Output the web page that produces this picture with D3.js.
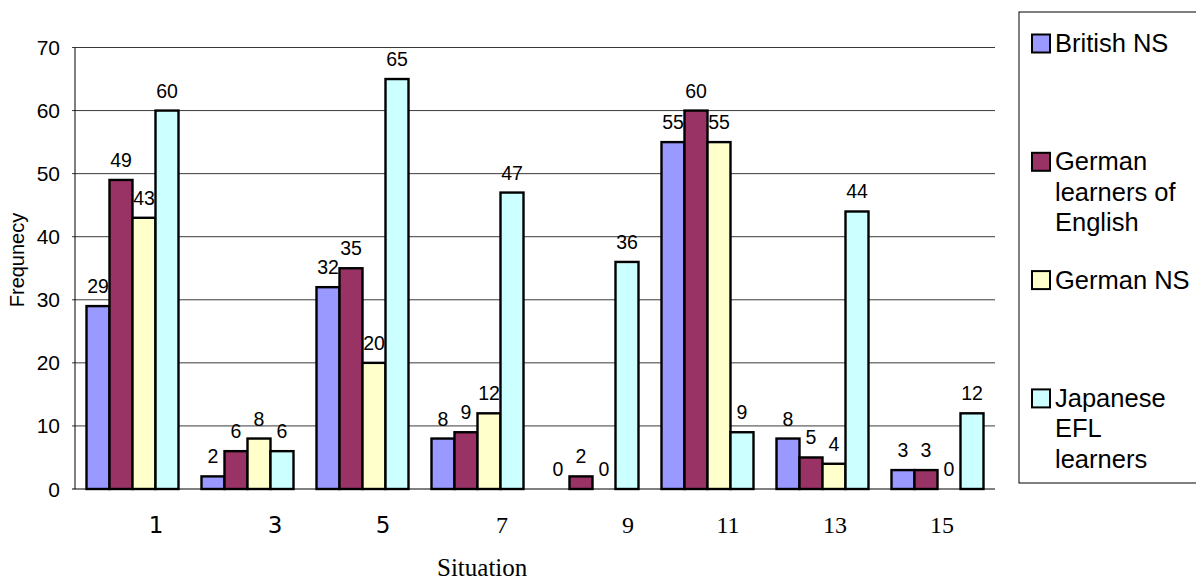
<!DOCTYPE html>
<html>
<head>
<meta charset="utf-8">
<script src="https://cdn.jsdelivr.net/npm/d3@7"></script>
<style>
  html, body { margin: 0; padding: 0; background: #fff; }
  svg { display: block; }
</style>
</head>
<body>
<svg id="chart" width="1196" height="583"></svg>
<script>
// Situations on the x axis
const situations = ["1", "3", "5", "7", "9", "11", "13", "15"];

// Frequency per group of respondents
const britishNS       = [29, 2, 32, 8, 0, 55, 8, 3];
const germanLearners  = [49, 6, 35, 9, 2, 60, 5, 3];
const germanNS        = [43, 8, 20, 12, 0, 55, 4, 0];
const japaneseEFL     = [60, 6, 65, 47, 36, 9, 44, 12];

const seriesNames = [
  ["British NS"],
  ["German", "learners of", "English"],
  ["German NS"],
  ["Japanese", "EFL", "learners"]
];
const seriesColors = ["#9999ff", "#993366", "#ffffcc", "#ccffff"];
const yTicks = [0, 10, 20, 30, 40, 50, 60, 70];

// Situation numbers sit slightly off the group centres; 1-5 use a sans face
const labelNudge = [23.5, 27.5, 20.5, 24.5, 35.5, 20.5, 12.5, 4.5];
const labelFonts = ["DejaVu Sans", "DejaVu Sans", "DejaVu Sans",
  "Liberation Serif", "Liberation Serif", "Liberation Serif", "Liberation Serif", "Liberation Serif"];

const seriesValues = [britishNS, germanLearners, germanNS, japaneseEFL];

const svg = d3.select("#chart");
const plot = { left: 75, right: 995, top: 47.5, bottom: 489 };

const x0 = d3.scaleBand()
  .domain(situations)
  .range([plot.left, plot.right])
  .paddingInner(0.2)
  .paddingOuter(0.1);

const x1 = d3.scaleBand()
  .domain(d3.range(seriesValues.length))
  .range([0, x0.bandwidth()]);

const y = d3.scaleLinear().domain([0, 70]).range([plot.bottom, plot.top]);

// Horizontal gridlines
svg.append("g")
  .selectAll("line")
  .data(yTicks)
  .join("line")
  .attr("x1", plot.left - 3)
  .attr("x2", plot.right)
  .attr("y1", d => y(d))
  .attr("y2", d => y(d))
  .attr("stroke", d => d === 0 ? "#000" : "#3a3a3a")
  .attr("stroke-width", 1);

// Y axis line
svg.append("line")
  .attr("x1", plot.left).attr("x2", plot.left)
  .attr("y1", y(70)).attr("y2", y(0))
  .attr("stroke", "#000").attr("stroke-width", 1);

// Y tick labels
svg.append("g")
  .selectAll("text")
  .data(yTicks)
  .join("text")
  .attr("x", 60)
  .attr("y", d => y(d))
  .attr("dy", "0.36em")
  .attr("text-anchor", "end")
  .attr("font-family", "Liberation Sans, Arial, sans-serif")
  .attr("font-size", 21)
  .attr("fill", "#000")
  .text(d => d);

// Bars
const rows = situations.map((s, i) => ({
  situation: s,
  values: seriesValues.map((vals, k) => ({ k, v: vals[i] }))
}));

const groups = svg.append("g")
  .selectAll("g")
  .data(rows)
  .join("g")
  .attr("transform", d => `translate(${x0(d.situation)},0)`);

groups.selectAll("rect")
  .data(d => d.values.filter(e => e.v > 0))
  .join("rect")
  .attr("x", e => x1(e.k))
  .attr("y", e => y(e.v))
  .attr("width", x1.bandwidth())
  .attr("height", e => y(0) - y(e.v))
  .attr("fill", e => seriesColors[e.k])
  .attr("stroke", "#000")
  .attr("stroke-width", 2.4);

// Value labels
groups.selectAll("text")
  .data(d => d.values)
  .join("text")
  .attr("x", e => x1(e.k) + x1.bandwidth() / 2)
  .attr("y", e => y(e.v) - 13)
  .attr("text-anchor", "middle")
  .attr("font-family", "Liberation Sans, Arial, sans-serif")
  .attr("font-size", 19.5)
  .attr("fill", "#000")
  .text(e => e.v);

// X tick labels
svg.append("g")
  .selectAll("text")
  .data(situations)
  .join("text")
  .attr("x", (d, i) => x0(d) + x0.bandwidth() / 2 + labelNudge[i])
  .attr("y", 533)
  .attr("text-anchor", "middle")
  .attr("font-family", (d, i) => labelFonts[i])
  .attr("font-size", (d, i) => i < 3 ? 23 : 24)
  .attr("fill", "#000")
  .text(d => d);

// Axis titles
svg.append("text")
  .attr("x", 437)
  .attr("y", 576)
  .attr("font-family", "Liberation Serif, Times New Roman, serif")
  .attr("font-size", 25)
  .attr("fill", "#000")
  .text("Situation");

svg.append("text")
  .attr("transform", "translate(24,260) rotate(-90)")
  .attr("text-anchor", "middle")
  .attr("font-family", "Liberation Sans, Arial, sans-serif")
  .attr("font-size", 20)
  .attr("fill", "#000")
  .text("Frequnecy");

// Legend
const legend = svg.append("g");
legend.append("rect")
  .attr("x", 1019).attr("y", 12)
  .attr("width", 200).attr("height", 471)
  .attr("fill", "#fff")
  .attr("stroke", "#000")
  .attr("stroke-width", 1);

const entries = legend.selectAll("g.entry")
  .data(seriesNames)
  .join("g")
  .attr("class", "entry")
  .attr("transform", (d, i) => `translate(0,${43 + i * 118.3})`);

entries.append("rect")
  .attr("x", 1032).attr("y", -8.5)
  .attr("width", 18).attr("height", 18)
  .attr("fill", (d, i) => seriesColors[i])
  .attr("stroke", "#000")
  .attr("stroke-width", 2);

entries.each(function(lines) {
  const t = d3.select(this).append("text")
    .attr("font-family", "Liberation Sans, Arial, sans-serif")
    .attr("font-size", 25.5)
    .attr("fill", "#000");
  t.selectAll("tspan")
    .data(lines)
    .join("tspan")
    .attr("x", 1055)
    .attr("y", (l, j) => 9 + j * 30.5)
    .text(l => l);
});
</script>
</body>
</html>
